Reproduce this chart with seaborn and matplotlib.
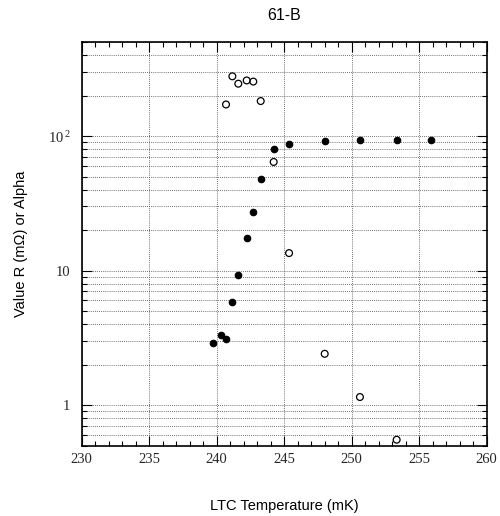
import matplotlib
matplotlib.use("Agg")
import matplotlib.pyplot as plt
import matplotlib.ticker as mticker
import seaborn as sns
import pandas as pd
import numpy as np

# Data
filled_T = [239.73, 240.34, 240.71, 241.16, 241.60, 242.27, 242.71, 243.26, 244.22, 245.36, 248.0, 250.61, 253.33, 255.9]
filled_R = [2.90, 3.32, 3.12, 5.83, 9.29, 17.5, 27.5, 47.8, 80.7, 87.3, 91.4, 93.0, 93.0, 94.0]
open_T = [240.69, 241.16, 241.60, 242.22, 242.71, 243.26, 244.22, 245.36, 248.0, 250.61, 253.33]
open_A = [171.7, 278, 245, 259, 254, 182, 64.2, 13.5, 2.41, 1.15, 0.554]

x_ticks = [230, 235, 240, 245, 250, 255, 260]
y_ticks = [1, 10, 100]
y_ticklabels = ["1", "10", r"$\mathregular{10^{\,2}}$"]

sns.set_theme(style="ticks")
plt.rcParams["font.family"] = ["Liberation Sans", "DejaVu Sans"]
plt.rcParams["mathtext.fontset"] = "custom"
plt.rcParams["mathtext.rm"] = "Liberation Serif"

df = pd.concat([
    pd.DataFrame({"T": filled_T, "V": filled_R, "kind": "R"}),
    pd.DataFrame({"T": open_T, "V": open_A, "kind": "Alpha"}),
])

fig = plt.figure(figsize=(5.0, 5.16), dpi=100)
ax = fig.add_axes([0.1634, 0.1362, 0.81, 0.7824])

sns.scatterplot(data=df[df.kind == "R"], x="T", y="V", ax=ax, color="black",
                s=22, marker="o", edgecolor="black", linewidth=0.8, legend=False, zorder=3)
sns.scatterplot(data=df[df.kind == "Alpha"], x="T", y="V", ax=ax, facecolor="none",
                s=24, marker="o", edgecolor="black", linewidth=0.9, legend=False, zorder=3)

ax.set_yscale("log")
ax.set_xlim(230, 260)
ax.set_ylim(0.5, 500)
ax.set_xticks(x_ticks)
ax.set_xticklabels([str(t) for t in x_ticks], fontfamily="Liberation Serif", fontsize=10.5)
ax.xaxis.set_minor_locator(mticker.MultipleLocator(1))
ax.set_yticks(y_ticks)
ax.set_yticklabels(y_ticklabels, fontfamily="Liberation Serif", fontsize=10.5)
ax.yaxis.set_minor_locator(mticker.LogLocator(base=10, subs=np.arange(2, 10)))
ax.yaxis.set_minor_formatter(mticker.NullFormatter())

ax.tick_params(which="both", direction="in", top=True, right=True, color="black", width=0.8)
ax.tick_params(which="major", length=7)
ax.tick_params(which="minor", length=3.5)
ax.tick_params(axis="x", which="major", pad=5)
ax.tick_params(axis="y", which="major", pad=8)

ax.grid(True, which="major", axis="both", linestyle=(0, (1, 1.5)), color="#444444", linewidth=0.6)
ax.grid(True, which="minor", axis="y", linestyle=(0, (1, 1.5)), color="#444444", linewidth=0.6)
for s in ax.spines.values():
    s.set_color("black")
    s.set_linewidth(1.2)

ax.set_xlabel("LTC Temperature (mK)", fontsize=10.5, labelpad=24, color="black")
ax.set_ylabel("Value R (m\u03a9) or Alpha", fontsize=10.5, labelpad=14, color="black")
ax.set_title("61-B", fontsize=11.5, pad=16, color="black")

fig.savefig("out.png", dpi=100)
